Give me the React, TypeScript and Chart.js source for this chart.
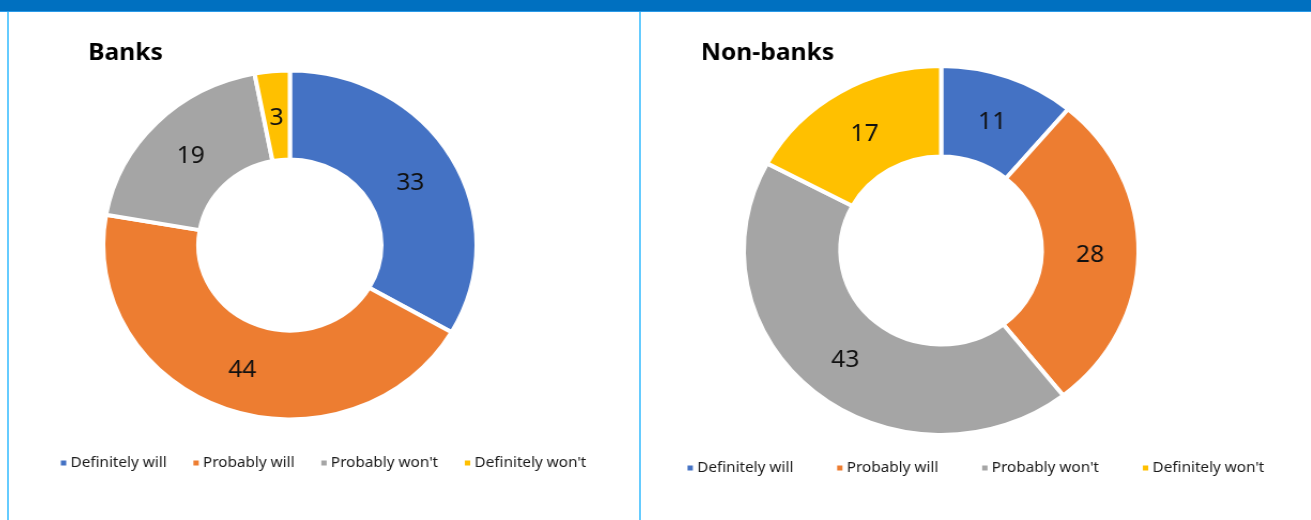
import React, { useEffect, useRef } from "react";
import { Chart, registerables } from "chart.js";

Chart.register(...registerables);

const categories = ["Definitely will", "Probably will", "Probably won't", "Definitely won't"];
const bankValues = [33, 44, 19, 3];
const nonBankValues = [11, 28, 43, 17];
const sliceColors = ["#4472C4", "#ED7D31", "#A5A5A5", "#FFC000"];
const titles = ["Banks", "Non-banks"];

const STRETCH = 1.07;

const decoPlugin = {
  id: "panelDeco",
  afterDatasetsDraw(chart: any, _args: any, opts: any) {
    const ctx = chart.ctx as CanvasRenderingContext2D;
    const ds = chart.data.datasets[0];
    const meta = chart.getDatasetMeta(0);
    ctx.save();
    // data labels
    ctx.font = `${opts.labelSize}px 'Noto Sans'`;
    ctx.fillStyle = "#111111";
    ctx.textAlign = "center";
    ctx.textBaseline = "middle";
    meta.data.forEach((arc: any, i: number) => {
      const p = arc.getCenterPoint();
      ctx.fillText(String(ds.data[i]), p.x, p.y + opts.labelDy);
    });
    // title
    ctx.font = `bold ${opts.titleSize}px 'Noto Sans'`;
    ctx.textAlign = "left";
    ctx.textBaseline = "alphabetic";
    ctx.fillStyle = "#000000";
    ctx.fillText(opts.title, opts.titleX, opts.titleY);
    // legend
    ctx.font = `${opts.legendSize}px 'Noto Sans'`;
    ctx.textBaseline = "middle";
    const labels: string[] = chart.data.labels;
    const box = 5;
    const boxGap = 4;
    const widths = labels.map((l) => ctx.measureText(l).width);
    const total =
      widths.reduce((a, w) => a + box + boxGap + w, 0) + opts.legendGap * (labels.length - 1);
    let x = opts.legendCx - total / 2;
    const y = opts.legendY;
    labels.forEach((l, i) => {
      ctx.fillStyle = ds.backgroundColor[i];
      ctx.fillRect(x, y - box / 2, box, box);
      x += box + boxGap;
      ctx.fillStyle = "#1a1a1a";
      ctx.fillText(l, x, y);
      x += widths[i] + opts.legendGap;
    });
    ctx.restore();
  },
};

type PanelProps = {
  values: number[];
  title: string;
  left: number;
  width: number;
  padding: { top: number; bottom: number; left: number; right: number };
  cutout: string;
  titleX: number;
  legendCx: number;
  legendY: number;
  legendGap: number;
};

function DonutPanel(props: PanelProps) {
  const ref = useRef<HTMLCanvasElement | null>(null);
  useEffect(() => {
    if (!ref.current) return;
    const chart = new Chart(ref.current, {
      type: "doughnut",
      data: {
        labels: categories,
        datasets: [
          {
            data: props.values,
            backgroundColor: sliceColors,
            borderColor: "#ffffff",
            borderWidth: 4,
          },
        ],
      },
      options: {
        responsive: false,
        animation: false,
        devicePixelRatio: 1,
        cutout: props.cutout,
        layout: { padding: props.padding },
        plugins: {
          legend: { display: false },
          tooltip: { enabled: false },
          title: { display: false },
          panelDeco: {
            title: props.title,
            titleX: props.titleX,
            titleY: 48,
            titleSize: 23,
            labelSize: 23,
            labelDy: 3,
            legendSize: 14.3,
            legendCx: props.legendCx,
            legendY: props.legendY,
            legendGap: props.legendGap,
          },
        } as any,
      },
      plugins: [decoPlugin],
    });
    return () => chart.destroy();
  }, []);
  return (
    <div
      style={{
        position: "absolute",
        left: props.left,
        top: 12,
        width: props.width,
        height: 508,
        transform: `scaleX(${STRETCH})`,
        transformOrigin: "left top",
      }}
    >
      <canvas ref={ref} width={props.width} height={508} style={{ display: "block" }} />
    </div>
  );
}

export default function App() {
  return (
    <div
      style={{
        position: "fixed",
        left: 0,
        top: 0,
        width: 1311,
        height: 520,
        background: "#ffffff",
        overflow: "hidden",
      }}
    >
      <DonutPanel
        values={bankValues}
        title={titles[0]}
        left={9}
        width={589}
        padding={{ top: 56.5, bottom: 98.5, left: 86, right: 150 }}
        cutout="49%"
        titleX={74}
        legendCx={294}
        legendY={451}
        legendGap={25}
      />
      <DonutPanel
        values={nonBankValues}
        title={titles[1]}
        left={641}
        width={626}
        padding={{ top: 52, bottom: 83, left: 94, right: 159 }}
        cutout="51%"
        titleX={56}
        legendCx={313}
        legendY={456}
        legendGap={41}
      />
      <div style={{ position: "absolute", left: 0, top: 0, width: 1311, height: 11, background: "#0070C0" }} />
      <div style={{ position: "absolute", left: 0, top: 11, width: 1311, height: 1, background: "#2A9AE8" }} />
      <div style={{ position: "absolute", left: 7, top: 12, width: 2, height: 508, background: "#66CCFF" }} />
      <div style={{ position: "absolute", left: 639, top: 12, width: 2, height: 508, background: "#66CCFF" }} />
    </div>
  );
}
